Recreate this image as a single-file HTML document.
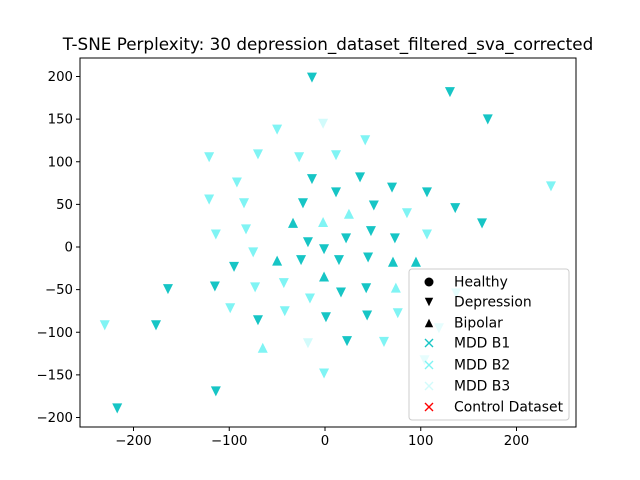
<!DOCTYPE html>
<html><head><meta charset="utf-8">
<style>
body{margin:0;background:#fff;}
svg{display:block;font-family:"DejaVu Sans","Liberation Sans",sans-serif;}
</style></head>
<body>
<svg id="chart" width="640" height="480" viewBox="0 0 640 480">
<rect x="0" y="0" width="640" height="480" fill="#fff"/>
<text x="328" y="50" text-anchor="middle" font-size="16.8" fill="#000">T-SNE Perplexity: 30 depression_dataset_filtered_sva_corrected</text>
<g id="marks"></g>
<rect x="80" y="58" width="496" height="369" fill="none" stroke="#000" stroke-width="1"/>
<g id="axes"></g>
<g id="legend"></g>
</svg>
<script>
// x tick values and y tick values
const xTicks = [-200, -100, 0, 100, 200];
const yTicks = [-200, -150, -100, -50, 0, 50, 100, 150, 200];
// Depression (down triangle) MDD B1
const depB1X = [-13.6,130.5,170,36.6,11.5,70,106.5,51,136,164,48,22,73,-1,14.6,45,-13.6,-23,-17.8,-95,-164,-115,16.7,43,-176.5,-70,1,44,23,-114,-217,-25];
const depB1Y = [199,182,150,82,64.5,70,64.5,49,46,28,19,10.5,10.5,-2.3,-15,-12,80,51.6,5.9,-23,-49,-46,-53,-48,-91.5,-85.6,-82,-80,-110,-169,-189,-15];
// Bipolar (up triangle) MDD B1
const bipB1X = [-50,-1,71,95,-33.4];
const bipB1Y = [-16.4,-35,-17.6,-17.6,28];
// Depression MDD B2
const depB2X = [-75,-230,-73,-43,-15.7,-99,-42,76,61.6,-1,-50,-121,-70,-27,-92,-121,-84.6,-114,-82.5,42,11.5,85.6,106.5,236,137,119,104];
const depB2Y = [-6,-91.5,-47,-42,-60,-71.5,-75,-77.4,-111,-148,138,105.6,109,105.6,76,56,51.6,15,21,125.5,108,40,15,71.5,-54,-95,-132.5];
// Bipolar MDD B2
const bipB2X = [-65,25,-2,74];
const bipB2Y = [-118.5,38.7,29,-48];
// Depression MDD B3
const depB3X = [-17.8,-2];
const depB3Y = [-112.6,145];

const X0=80,X1=576,Y0=58,Y1=427;
function sx(v){return 325 + v*0.9575;}
function sy(v){return 247 - v*0.8525;}
const NS='http://www.w3.org/2000/svg';
const marks=document.getElementById('marks');
const C1='#17c5c5',C2='#80f4f4',C3='#d2fbfb';
function tri(x,y,down,col,name){
  const p=document.createElementNS(NS,'polygon');
  const h=4.2;
  const pts = down ? [[x-h,y-h],[x+h,y-h],[x,y+h]] : [[x-h,y+h],[x+h,y+h],[x,y-h]];
  p.setAttribute('points',pts.map(a=>a.join(',')).join(' '));
  p.setAttribute('fill',col);p.setAttribute('stroke',col);p.setAttribute('stroke-width','1');
  
  
  marks.appendChild(p);
}
depB1X.forEach((v,i)=>tri(sx(v),sy(depB1Y[i]),true,C1,'depression-b1-point'));
bipB1X.forEach((v,i)=>tri(sx(v),sy(bipB1Y[i]),false,C1,'bipolar-b1-point'));
depB2X.forEach((v,i)=>tri(sx(v),sy(depB2Y[i]),true,C2,'depression-b2-point'));
bipB2X.forEach((v,i)=>tri(sx(v),sy(bipB2Y[i]),false,C2,'bipolar-b2-point'));
depB3X.forEach((v,i)=>tri(sx(v),sy(depB3Y[i]),true,C3,'depression-b3-point'));

const axes=document.getElementById('axes');
xTicks.forEach(t=>{
  const x=sx(t);
  const l=document.createElementNS(NS,'line');
  l.setAttribute('x1',x);l.setAttribute('x2',x);l.setAttribute('y1',Y1);l.setAttribute('y2',Y1+4);
  l.setAttribute('stroke','#000');
  
  
  axes.appendChild(l);
  const tx=document.createElementNS(NS,'text');
  tx.setAttribute('x',x);tx.setAttribute('y',Y1+18);tx.setAttribute('text-anchor','middle');tx.setAttribute('font-size','13.3');
  tx.textContent=t<0?'\u2212'+(-t):String(t);
  
  
  axes.appendChild(tx);
});
yTicks.forEach(t=>{
  const y=sy(t);
  const l=document.createElementNS(NS,'line');
  l.setAttribute('x1',X0-4);l.setAttribute('x2',X0);l.setAttribute('y1',y);l.setAttribute('y2',y);
  l.setAttribute('stroke','#000');
  
  
  axes.appendChild(l);
  const tx=document.createElementNS(NS,'text');
  tx.setAttribute('x',X0-7);tx.setAttribute('y',y+4.5);tx.setAttribute('text-anchor','end');tx.setAttribute('font-size','13.3');
  tx.textContent=t<0?'\u2212'+(-t):String(t);
  
  
  axes.appendChild(tx);
});

// legend
const lg=document.getElementById('legend');
const box=document.createElementNS(NS,'rect');
box.setAttribute('x',409);box.setAttribute('y',269);box.setAttribute('width',160);box.setAttribute('height',151);
box.setAttribute('rx',3);box.setAttribute('fill','rgba(255,255,255,0.8)');box.setAttribute('stroke','#ccc');


lg.appendChild(box);
const labels=['Healthy','Depression','Bipolar','MDD B1','MDD B2','MDD B3','Control Dataset'];
const ly=[282,302,323,343,365,386,407];
labels.forEach((lab,i)=>{
  const y=ly[i], x=429;
  let m;
  if(i===0){m=document.createElementNS(NS,'circle');m.setAttribute('cx',x);m.setAttribute('cy',y);m.setAttribute('r',4.5);m.setAttribute('fill','#000');}
  else if(i===1||i===2){m=document.createElementNS(NS,'polygon');const h=4.2;
    const pts=i===1?[[x-h,y-h],[x+h,y-h],[x,y+h]]:[[x-h,y+h],[x+h,y+h],[x,y-h]];
    m.setAttribute('points',pts.map(a=>a.join(',')).join(' '));m.setAttribute('fill','#000');}
  else{const col=[C1,C2,C3,'#ff0000'][i-3];
    m=document.createElementNS(NS,'path');m.setAttribute('d',`M${x-4},${y-4}L${x+4},${y+4}M${x-4},${y+4}L${x+4},${y-4}`);
    m.setAttribute('stroke',col);m.setAttribute('stroke-width','1.4');m.setAttribute('fill','none');}
  
  
  lg.appendChild(m);
  const t=document.createElementNS(NS,'text');
  t.setAttribute('x',454);t.setAttribute('y',y+4.5);t.setAttribute('font-size','13.9');t.textContent=lab;
  
  
  lg.appendChild(t);
});
</script>
</body></html>
